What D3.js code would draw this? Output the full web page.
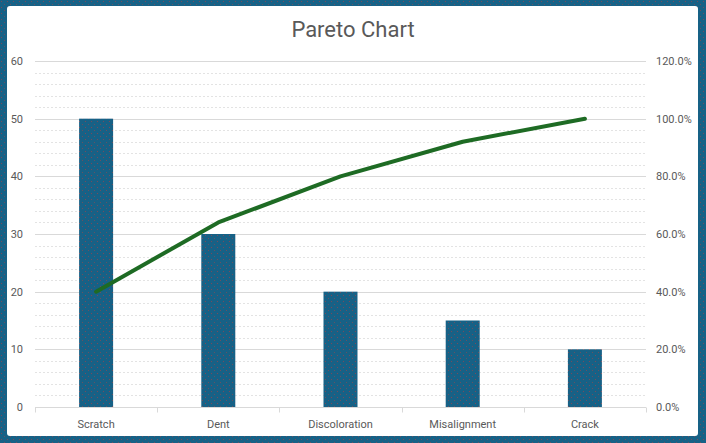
<!DOCTYPE html>
<html><head><meta charset="utf-8">
<script src="https://cdn.jsdelivr.net/npm/d3@7"></script>
<style>body{margin:0;background:#fff}svg{display:block}</style>
</head><body><svg id="c" width="706" height="443"></svg>
<script>
const categories = ["Scratch","Dent","Discoloration","Misalignment","Crack"];
const counts = [50,30,20,15,10];
const cumulativePct = [40,64,80,92,100];
const leftTicks = [0,10,20,30,40,50,60];
const rightTicks = [0,20,40,60,80,100,120];

const W=706,H=443;
const svg=d3.select("#c");
const defs=svg.append("defs");
const pat=defs.append("pattern").attr("id","dots").attr("patternUnits","userSpaceOnUse").attr("width",6).attr("height",6);
pat.append("rect").attr("width",6).attr("height",6).attr("fill","#176186");
pat.append("rect").attr("x",1).attr("y",1).attr("width",1).attr("height",1).attr("fill","#7a4a5a");
pat.append("rect").attr("x",4).attr("y",4).attr("width",1).attr("height",1).attr("fill","#6a5060");

// border
svg.append("rect").attr("x",0).attr("y",0).attr("width",W).attr("height",H).attr("fill","url(#dots)");
svg.append("rect").attr("x",7).attr("y",6).attr("width",691).attr("height",430).attr("rx",3).attr("fill","#fff");

const m={l:35,r:646,t:61,b:407};
const x=d3.scaleBand().domain(categories).range([m.l,m.r]);
const y=d3.scaleLinear().domain([0,60]).range([m.b,m.t]);
const y2=d3.scaleLinear().domain([0,120]).range([m.b,m.t]);

// minor gridlines
const minor=d3.range(0,61,2).filter(v=>v%10!==0);
svg.append("g").selectAll("line").data(minor).join("line")
 .attr("x1",m.l).attr("x2",m.r).attr("y1",d=>Math.round(y(d))+0.5).attr("y2",d=>Math.round(y(d))+0.5)
 .attr("stroke","#e3e3e3").attr("stroke-dasharray","2,2");
svg.append("g").selectAll("line").data(leftTicks.filter(v=>v>0)).join("line")
 .attr("x1",m.l).attr("x2",m.r).attr("y1",d=>Math.round(y(d))+0.5).attr("y2",d=>Math.round(y(d))+0.5)
 .attr("stroke","#d9d9d9");

// bars
const bw=34;
svg.append("g").selectAll("rect").data(categories).join("rect")
 .attr("x",(d)=>x(d)+x.bandwidth()/2-bw/2).attr("width",bw)
 .attr("y",(d,i)=>y(counts[i])).attr("height",(d,i)=>y(0)-y(counts[i]))
 .attr("fill","url(#dots)");

// x axis
const xa=svg.append("g").attr("transform",`translate(0,${m.b+0.5})`);
xa.append("line").attr("x1",m.l).attr("x2",m.r).attr("stroke","#d9d9d9");
const bounds=categories.map(c=>x(c)).concat([m.r]);
xa.selectAll("line.t").data(bounds).join("line").attr("class","t")
 .attr("x1",d=>Math.round(d)+0.5).attr("x2",d=>Math.round(d)+0.5).attr("y1",0).attr("y2",5).attr("stroke","#d9d9d9");
xa.selectAll("text").data(categories).join("text")
 .attr("x",d=>x(d)+x.bandwidth()/2).attr("y",20).attr("text-anchor","middle")
 .attr("font-family","Roboto, Arial, sans-serif").attr("font-size",11).attr("fill","#595959").text(d=>d);

// left labels
svg.append("g").selectAll("text").data(leftTicks).join("text")
 .attr("x",23).attr("y",d=>y(d)+4).attr("text-anchor","end")
 .attr("font-family","Roboto, Arial, sans-serif").attr("font-size",11).attr("fill","#595959").text(d=>d);
// right labels
svg.append("g").selectAll("text").data(rightTicks).join("text")
 .attr("x",656).attr("y",d=>y2(d)+4).attr("text-anchor","start")
 .attr("font-family","Roboto, Arial, sans-serif").attr("font-size",11).attr("fill","#595959").text(d=>d.toFixed(1)+"%");

// line
const line=d3.line().x((d,i)=>x(categories[i])+x.bandwidth()/2).y(d=>y2(d));
svg.append("path").datum(cumulativePct).attr("d",line).attr("fill","none")
 .attr("stroke","#1e6b24").attr("stroke-width",4).attr("stroke-linecap","round").attr("stroke-linejoin","round");

// title
svg.append("text").attr("x",353).attr("y",37).attr("text-anchor","middle")
 .attr("font-family","Roboto, Arial, sans-serif").attr("font-size",22).attr("fill","#595959").text("Pareto Chart");
</script></body></html>
